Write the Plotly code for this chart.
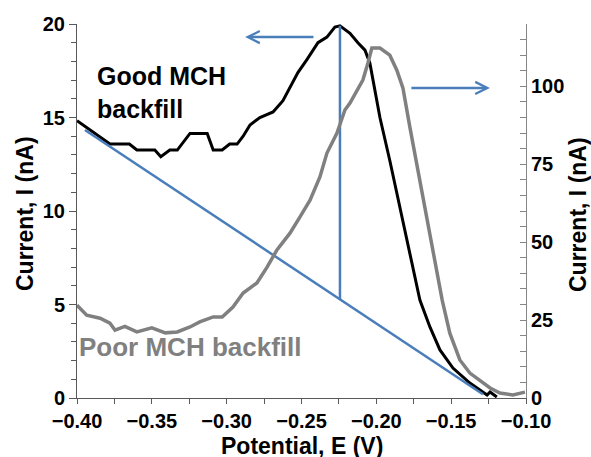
import numpy as np
import plotly.graph_objects as go

# Square-wave voltammograms: potential (V) vs current
good_E = [-0.400, -0.389, -0.378, -0.365, -0.360, -0.348, -0.344, -0.338, -0.333, -0.3245,
          -0.313, -0.309, -0.303, -0.298, -0.293, -0.289, -0.2844, -0.2778, -0.269, -0.2624,
          -0.2577, -0.2524, -0.2464, -0.239, -0.233, -0.2277, -0.2243, -0.2176, -0.2123, -0.2076,
          -0.2043, -0.1976, -0.191, -0.182, -0.1776, -0.1709, -0.1642, -0.1575, -0.1488, -0.1375,
          -0.1308, -0.126, -0.124, -0.1195]
good_I = [14.83, 14.2, 13.58, 13.58, 13.26, 13.26, 12.9, 13.26, 13.26, 14.15,
          14.15, 13.26, 13.26, 13.58, 13.58, 14.0, 14.6, 15.0, 15.3, 15.9,
          16.6, 17.4, 18.1, 19.0, 19.3, 19.84, 19.9, 19.5, 19.0, 18.6,
          17.9, 15.0, 12.7, 9.3, 7.75, 5.24, 3.8, 2.57, 1.6, 0.8,
          0.43, 0.16, 0.32, 0.05]

poor_E = [-0.400, -0.3935, -0.3846, -0.378, -0.3746, -0.368, -0.360, -0.350, -0.341, -0.333,
          -0.3245, -0.318, -0.309, -0.303, -0.2958, -0.289, -0.2798, -0.273, -0.2664, -0.2577,
          -0.251, -0.2443, -0.2377, -0.233, -0.2263, -0.221, -0.2176, -0.209, -0.2056, -0.203,
          -0.1976, -0.191, -0.1863, -0.1822, -0.1776, -0.1722, -0.1662, -0.1622, -0.156, -0.1509,
          -0.1442, -0.1375, -0.1288, -0.124, -0.1174, -0.1087, -0.1007]
poor_I = [29.8, 26.6, 25.6, 24.0, 21.8, 23.0, 21.2, 22.5, 20.9, 21.2,
          22.8, 24.4, 26.0, 26.0, 29.2, 33.7, 36.9, 42.0, 47.5, 52.9,
          58.1, 63.5, 70.9, 78.6, 85.0, 92.4, 94.6, 102.0, 107.5, 112.3,
          112.3, 110.0, 105.2, 99.4, 86.9, 73.1, 58.1, 46.5, 31.4, 20.8,
          12.2, 8.0, 5.1, 3.2, 1.6, 1.0, 1.9]

# Baseline drawn under the good-backfill peak (left axis units)
baseline_E = [-0.3947, -0.1288]
baseline_I = [14.33, 0.2]

# Axis-pointer arrows: [tail E, tip E], current on left axis
left_arrow_E = [-0.2410, -0.2877]
left_arrow_I = 19.3
right_arrow_E = [-0.1776, -0.1241]
right_arrow_I = 16.58

BLUE = "#4A7EBB"
GRAY = "#808080"
FONT = "Arial, Liberation Sans, sans-serif"

# Peak height: vertical from baseline to the maximum of the good curve
k = int(np.argmax(good_I))
peak_E = good_E[k]
peak_I = good_I[k]
peak_base = float(np.interp(peak_E, baseline_E, baseline_I))

fig = go.Figure()
fig.add_trace(go.Scatter(x=poor_E, y=poor_I, yaxis="y2", mode="lines",
                         line=dict(color=GRAY, width=3.5), showlegend=False))
fig.add_trace(go.Scatter(x=good_E, y=good_I, mode="lines",
                         line=dict(color="black", width=3), showlegend=False))
fig.add_trace(go.Scatter(x=baseline_E, y=baseline_I, mode="lines",
                         line=dict(color=BLUE, width=2.5), showlegend=False))
fig.add_trace(go.Scatter(x=[peak_E, peak_E], y=[peak_base, peak_I], mode="lines",
                         line=dict(color=BLUE, width=2.5), showlegend=False))

for E, I in [(left_arrow_E, left_arrow_I), (right_arrow_E, right_arrow_I)]:
    fig.add_annotation(x=E[1], y=I, ax=E[0], ay=I, xref="x", yref="y",
                       axref="x", ayref="y", text="", showarrow=True,
                       arrowhead=5, arrowsize=0.95, arrowwidth=2.5, arrowcolor=BLUE)

fig.add_annotation(x=0.04, y=0.905, xref="paper", yref="paper", xanchor="left",
                   yanchor="top", align="left", showarrow=False,
                   text="Good MCH<br>backfill",
                   font=dict(family=FONT, size=25, color="black", weight="bold"))
fig.add_annotation(x=0.0, y=0.136, xref="paper", yref="paper", xanchor="left",
                   yanchor="middle", showarrow=False, text="Poor MCH backfill",
                   font=dict(family=FONT, size=26, color=GRAY, weight="bold"))

title_font = dict(family=FONT, size=23, color="black", weight="bold")
fig.add_annotation(x=0.5, y=-0.128, xref="paper", yref="paper", showarrow=False,
                   xanchor="center", yanchor="middle",
                   text="Potential, E (V)", font=title_font)
fig.add_annotation(x=-0.1158, y=0.492, xref="paper", yref="paper", showarrow=False,
                   xanchor="center", yanchor="middle",
                   text="Current, I (nA)", textangle=-90, font=title_font)
fig.add_annotation(x=1.1158, y=0.492, xref="paper", yref="paper", showarrow=False,
                   xanchor="center", yanchor="middle",
                   text="Current, I (nA)", textangle=-90, font=title_font)

tick_font = dict(family=FONT, size=20, color="black", weight="bold")
fig.update_layout(
    width=591, height=457,
    margin=dict(l=77, r=65, t=24, b=59),
    paper_bgcolor="white", plot_bgcolor="white",
    xaxis=dict(range=[-0.4, -0.1], dtick=0.05, tick0=-0.4, tickformat=".2f",
               showgrid=False, zeroline=False, showline=True, linecolor="#595959",
               linewidth=1, ticks="outside", ticklen=5, tickcolor="#595959",
               tickfont=tick_font,
               minor=dict(dtick=0.025, ticks="outside", ticklen=5, tickcolor="#595959")),
    yaxis=dict(range=[0, 20], dtick=5, showgrid=False, zeroline=False, showline=True,
               linecolor="#595959", linewidth=1, ticks="outside", ticklen=7,
               tickcolor="#595959", tickfont=tick_font,
               minor=dict(dtick=1, ticks="outside", ticklen=5, tickcolor="#595959")),
    yaxis2=dict(range=[0, 120], dtick=25, overlaying="y", side="right", showgrid=False,
                zeroline=False, showline=True, linecolor="#868686", linewidth=1,
                ticks="inside", ticklen=6, tickcolor="#868686", tickfont=tick_font,
                minor=dict(dtick=5, ticks="inside", ticklen=6, tickcolor="#868686")),
)

fig.write_html("out.html")
